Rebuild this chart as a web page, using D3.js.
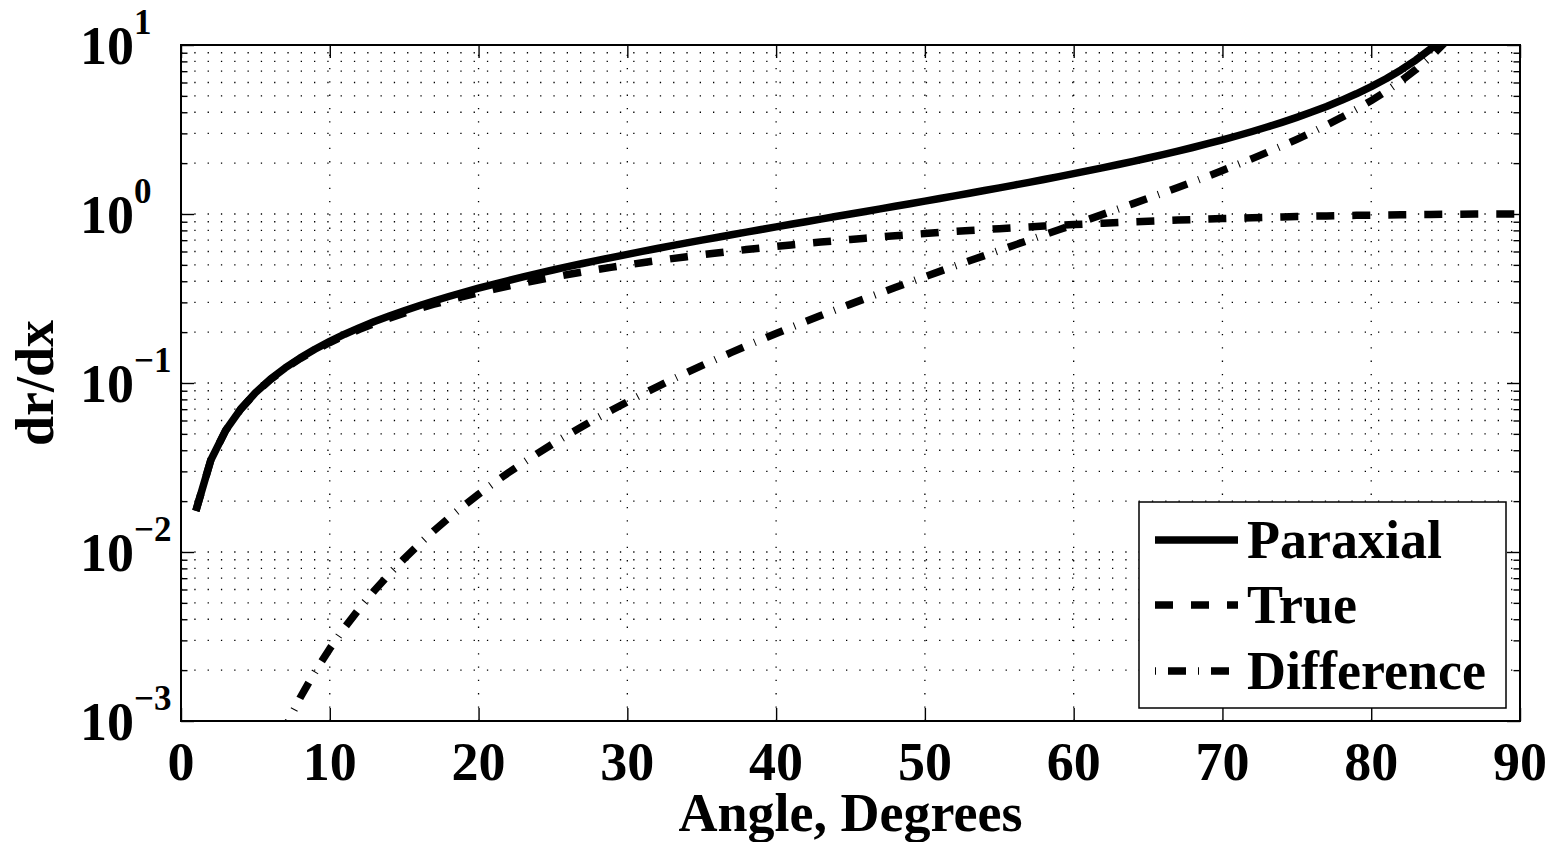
<!DOCTYPE html>
<html>
<head>
<meta charset="utf-8">
<script src="https://cdn.jsdelivr.net/npm/d3@7"></script>
<style>
  html, body { margin: 0; padding: 0; background: #fff; }
  svg text { font-family: "Liberation Serif", "Times New Roman", serif; font-weight: bold; fill: #000; }
</style>
</head>
<body>
<svg id="chart" width="1553" height="842"></svg>
<script>
// ---- data ----
const anglesTrue = d3.range(1, 91);          // 1..90 degrees
const anglesPar  = d3.range(1, 86);          // 1..85 degrees (clipped above 10)
const paraxial = [0.0175,0.0349,0.0524,0.0699,0.0875,0.1051,0.1228,0.1405,0.1584,0.1763,
  0.1944,0.2126,0.2309,0.2493,0.2679,0.2867,0.3057,0.3249,0.3443,0.3640,
  0.3839,0.4040,0.4245,0.4452,0.4663,0.4877,0.5095,0.5317,0.5543,0.5774,
  0.6009,0.6249,0.6494,0.6745,0.7002,0.7265,0.7536,0.7813,0.8098,0.8391,
  0.8693,0.9004,0.9325,0.9657,1.0000,1.0355,1.0724,1.1106,1.1504,1.1918,
  1.2349,1.2799,1.3270,1.3764,1.4281,1.4826,1.5399,1.6003,1.6643,1.7321,
  1.8040,1.8807,1.9626,2.0503,2.1445,2.2460,2.3559,2.4751,2.6051,2.7475,
  2.9042,3.0777,3.2709,3.4874,3.7321,4.0108,4.3315,4.7046,5.1446,5.6713,
  6.3138,7.1154,8.1443,9.5144,11.4301];
const trueVals = [0.0175,0.0349,0.0523,0.0698,0.0872,0.1045,0.1219,0.1392,0.1564,0.1736,
  0.1908,0.2079,0.2250,0.2419,0.2588,0.2756,0.2924,0.3090,0.3256,0.3420,
  0.3584,0.3746,0.3907,0.4067,0.4226,0.4384,0.4540,0.4695,0.4848,0.5000,
  0.5150,0.5299,0.5446,0.5592,0.5736,0.5878,0.6018,0.6157,0.6293,0.6428,
  0.6561,0.6691,0.6820,0.6947,0.7071,0.7193,0.7314,0.7431,0.7547,0.7660,
  0.7771,0.7880,0.7986,0.8090,0.8192,0.8290,0.8387,0.8480,0.8572,0.8660,
  0.8746,0.8829,0.8910,0.8988,0.9063,0.9135,0.9205,0.9272,0.9336,0.9397,
  0.9455,0.9511,0.9563,0.9613,0.9659,0.9703,0.9744,0.9781,0.9816,0.9848,
  0.9877,0.9903,0.9925,0.9945,0.9962,0.9976,0.9986,0.9994,0.9998,1.0000];
const difference = [0.00000266,0.0000213,0.0000718,0.000170,0.000333,0.000576,0.000915,0.001368,0.001950,0.002679,
  0.003571,0.004645,0.005917,0.007406,0.009130,0.011108,0.013359,0.015903,0.018759,0.021950,
  0.025496,0.029420,0.033744,0.038492,0.043689,0.049361,0.055535,0.062238,0.069500,0.077350,
  0.08582,0.09495,0.10477,0.11532,0.12663,0.13875,0.15173,0.16563,0.18046,0.19631,
  0.21323,0.23127,0.25052,0.27103,0.29289,0.31619,0.34102,0.36747,0.39566,0.42571,
  0.45775,0.49193,0.52840,0.56736,0.60900,0.65352,0.70119,0.75228,0.80711,0.86602,
  0.92943,0.99778,1.07160,1.15151,1.23820,1.33249,1.43535,1.54791,1.67151,1.80779,
  1.95869,2.12662,2.31455,2.52615,2.76612,3.04048,3.35711,3.72648,4.16292,4.68647,
  5.32606,6.12510,7.15180,8.51984,10.43386];
const xTicks = [0,10,20,30,40,50,60,70,80,90];
const yDecades = [-3,-2,-1,0,1];
const seriesNames = ["Paraxial","True","Difference"];
const xTitle = "Angle, Degrees";
const yTitle = "dr/dx";

// ---- layout ----
const L = 181, R = 1520, T = 45, B = 721;
const svg = d3.select("#chart");
const x = d3.scaleLinear().domain([0, 90]).range([L, R]);
const y = d3.scaleLog().domain([1e-3, 10]).range([B, T]);

const majorY = yDecades.map(e => Math.pow(10, e));
const minorY = [];
yDecades.slice(0, -1).forEach(e => { for (let k = 2; k <= 9; k++) minorY.push(k * Math.pow(10, e)); });

svg.append("defs").append("clipPath").attr("id", "plotclip")
  .append("rect").attr("x", L).attr("y", T).attr("width", R - L).attr("height", B - T);

// ---- grid ----
const grid = svg.append("g").attr("stroke", "#000").attr("stroke-width", 1.3)
  .attr("stroke-dasharray", "1.3,12").attr("fill", "none");
grid.selectAll("line.h").data(majorY.concat(minorY)).join("line")
  .attr("x1", L).attr("x2", R).attr("y1", d => y(d)).attr("y2", d => y(d));
grid.selectAll("line.v").data(xTicks.slice(1, -1)).join("line")
  .attr("y1", B).attr("y2", T).attr("x1", d => x(d)).attr("x2", d => x(d));

// ---- axes ----
const fmtNone = () => "";
function styleAxis(g) {
  g.select(".domain").remove();
  g.selectAll(".tick line").attr("stroke", "#000").attr("stroke-width", 1.4);
}
svg.append("g").attr("transform", `translate(0,${B})`)
  .call(d3.axisBottom(x).tickValues(xTicks).tickSize(-13).tickFormat(fmtNone)).call(styleAxis);
svg.append("g").attr("transform", `translate(0,${T})`)
  .call(d3.axisTop(x).tickValues(xTicks).tickSize(-13).tickFormat(fmtNone)).call(styleAxis);
svg.append("g").attr("transform", `translate(${L},0)`)
  .call(d3.axisLeft(y).tickValues(majorY).tickSize(-13).tickFormat(fmtNone)).call(styleAxis);
svg.append("g").attr("transform", `translate(${L},0)`)
  .call(d3.axisLeft(y).tickValues(minorY).tickSize(-6.5).tickFormat(fmtNone)).call(styleAxis);
svg.append("g").attr("transform", `translate(${R},0)`)
  .call(d3.axisRight(y).tickValues(majorY).tickSize(-13).tickFormat(fmtNone)).call(styleAxis);
svg.append("g").attr("transform", `translate(${R},0)`)
  .call(d3.axisRight(y).tickValues(minorY).tickSize(-6.5).tickFormat(fmtNone)).call(styleAxis);

// ---- series ----
const plot = svg.append("g").attr("clip-path", "url(#plotclip)").attr("fill", "none").attr("stroke", "#000");
const line = d3.line().x(d => x(d[0])).y(d => y(d[1]));
const styles = [
  { dash: null, width: 7.5 },
  { dash: "18,18", width: 7.5 },
  { dash: "18,12,1,12", width: 7.5 }
];
const seriesData = [
  d3.zip(anglesPar, paraxial),
  d3.zip(anglesTrue, trueVals),
  d3.zip(anglesPar, difference)
];
// draw Difference first, then True, then Paraxial on top
[2, 1, 0].forEach(i => {
  plot.append("path").datum(seriesData[i]).attr("d", line)
    .attr("stroke-width", styles[i].width)
    .attr("stroke-dasharray", styles[i].dash)
    .attr("stroke-linejoin", "round");
});

// ---- frame ----
svg.append("rect").attr("x", L).attr("y", T).attr("width", R - L).attr("height", B - T)
  .attr("fill", "none").attr("stroke", "#000").attr("stroke-width", 2);

// ---- tick labels ----
svg.append("g").selectAll("text").data(xTicks).join("text")
  .attr("x", d => x(d)).attr("y", 780).attr("text-anchor", "middle")
  .attr("font-size", 54).text(d => d);

const yl = svg.append("g").selectAll("g").data(yDecades).join("g");
yl.append("text").attr("x", 134).attr("y", d => y(Math.pow(10, d)) + 19)
  .attr("text-anchor", "end").attr("font-size", 54).text("10");
yl.append("text").attr("x", 134).attr("y", d => y(Math.pow(10, d)) - 11)
  .attr("text-anchor", "start").attr("font-size", 35)
  .text(d => d < 0 ? "\u2212" + Math.abs(d) : String(d));

// ---- axis titles ----
svg.append("text").attr("x", (L + R) / 2).attr("y", 831).attr("text-anchor", "middle")
  .attr("font-size", 54).text(xTitle);
svg.append("text").attr("transform", `translate(53,${(T + B) / 2}) rotate(-90)`)
  .attr("text-anchor", "middle").attr("font-size", 54).text(yTitle);

// ---- legend ----
const lg = svg.append("g");
lg.append("rect").attr("x", 1139).attr("y", 502).attr("width", 367).attr("height", 206)
  .attr("fill", "#fff").attr("stroke", "#000").attr("stroke-width", 1.5);
const rowsY = [540, 605, 671];
const offs = [0, 0, 30];
seriesNames.forEach((name, i) => {
  lg.append("line").attr("x1", 1155).attr("x2", 1238).attr("y1", rowsY[i]).attr("y2", rowsY[i])
    .attr("stroke", "#000").attr("stroke-width", styles[i].width)
    .attr("stroke-dasharray", styles[i].dash).attr("stroke-dashoffset", offs[i]);
  lg.append("text").attr("x", 1247).attr("y", rowsY[i] + 18).attr("font-size", 54).text(name);
});
</script>
</body>
</html>
